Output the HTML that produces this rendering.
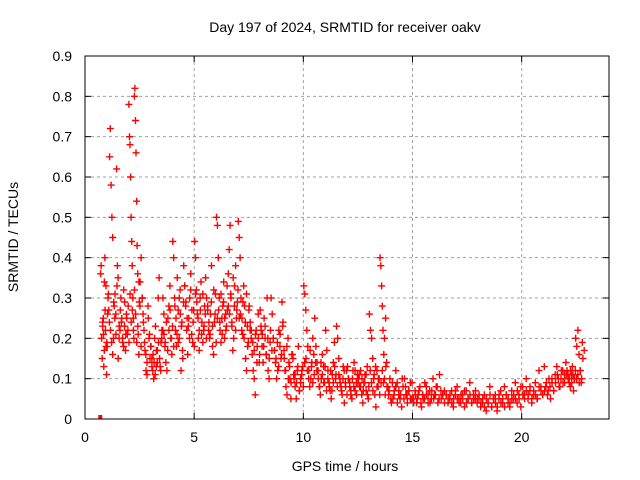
<!DOCTYPE html>
<html><head><meta charset="utf-8"><style>
body{margin:0;background:#fff}
svg{display:block;font-family:"Liberation Sans",sans-serif}
</style></head><body>
<svg width="640" height="480">
<text x="345" y="32" font-size="14" text-anchor="middle">Day 197 of 2024, SRMTID for receiver oakv</text>
<text x="0" y="0" font-size="14" text-anchor="middle" transform="translate(18,237) rotate(-90)">SRMTID / TECUs</text>
<text x="345" y="471" font-size="14" text-anchor="middle">GPS time / hours</text>
<g id="grid"></g><g id="axes"></g><g id="marks"></g>
<rect x="85" y="56" width="524" height="363" fill="none" stroke="#000" stroke-width="1"/>
</svg>
<script>
const xTicks=[0,5,10,15,20];
const yTicks=[0,0.1,0.2,0.3,0.4,0.5,0.6,0.7,0.8,0.9];
const yTickLabels=["0","0.1","0.2","0.3","0.4","0.5","0.6","0.7","0.8","0.9"];
const segStarts=[0.7,1.0,1.5,2.0,2.5,3.0,3.5,4.0,4.5,5.0,5.5,6.0,6.5,7.0,7.5,8.0,8.5,9.0,9.5,10.0,10.5,11.0,11.5,12.0,12.5,13.0,13.5,13.8,15.0,16.5,18.0,19.5,21.0,22.0];
const segEnds=[1.0,1.5,2.0,2.5,3.0,3.5,4.0,4.5,5.0,5.5,6.0,6.5,7.0,7.5,8.0,8.5,9.0,9.5,10.0,10.5,11.0,11.5,12.0,12.5,13.0,13.5,13.8,15.0,16.5,18.0,19.5,21.0,22.0,22.8];
const segValues=[
[0.36,0.38,0.2,0.15,0.23,0.25,0.13,0.34,0.4,0.22,0.18,0.11],
[0.18,0.3,0.27,0.65,0.72,0.58,0.5,0.45,0.2,0.28,0.31,0.26,0.62,0.38],
[0.15,0.2,0.22,0.3,0.25,0.19,0.32,0.23,0.17,0.26,0.21,0.28],
[0.78,0.7,0.68,0.6,0.5,0.44,0.38,0.3,0.25,0.2,0.8,0.82,0.74,0.66,0.54,0.43,0.36,0.21,0.16,0.29],
[0.34,0.4,0.3,0.26,0.22,0.17,0.12,0.11,0.28,0.2,0.15],
[0.18,0.15,0.12,0.1,0.2,0.23,0.17,0.14,0.3,0.35,0.13,0.19],
[0.22,0.3,0.26,0.18,0.14,0.12,0.25,0.28,0.33,0.2,0.16],
[0.44,0.4,0.3,0.22,0.18,0.35,0.27,0.2,0.32,0.12,0.24,0.15],
[0.38,0.33,0.28,0.22,0.16,0.25,0.3,0.36,0.21,0.19,0.27],
[0.44,0.4,0.32,0.26,0.2,0.17,0.3,0.34,0.24,0.19,0.22,0.28],
[0.35,0.3,0.28,0.22,0.2,0.26,0.38,0.18,0.16,0.24,0.31],
[0.5,0.48,0.4,0.3,0.22,0.19,0.25,0.28,0.34,0.2,0.26,0.23],
[0.27,0.36,0.42,0.48,0.3,0.23,0.17,0.2,0.33,0.38,0.25,0.29],
[0.49,0.45,0.4,0.3,0.25,0.21,0.33,0.28,0.15,0.12,0.23,0.19],
[0.28,0.24,0.2,0.16,0.12,0.1,0.06,0.22,0.18,0.26,0.14],
[0.27,0.22,0.18,0.14,0.25,0.2,0.16,0.3,0.12,0.1,0.19],
[0.3,0.26,0.2,0.17,0.14,0.1,0.12,0.22,0.18,0.15],
[0.29,0.24,0.17,0.12,0.08,0.06,0.2,0.14,0.1,0.05,0.16],
[0.15,0.1,0.08,0.05,0.12,0.18,0.07,0.09,0.11,0.13],
[0.33,0.31,0.27,0.22,0.18,0.12,0.08,0.1,0.14,0.2,0.16],
[0.25,0.18,0.14,0.12,0.08,0.06,0.1,0.16,0.13,0.09],
[0.22,0.17,0.12,0.09,0.07,0.05,0.11,0.14,0.19,0.1],
[0.23,0.2,0.15,0.1,0.08,0.06,0.13,0.04,0.09,0.12],
[0.13,0.1,0.08,0.06,0.05,0.12,0.14,0.07,0.09,0.11],
[0.1,0.08,0.12,0.06,0.04,0.09,0.11,0.07,0.13,0.05],
[0.26,0.22,0.2,0.15,0.1,0.06,0.03,0.12,0.08,0.1],
[0.4,0.38,0.33,0.28,0.22,0.16,0.1,0.06,0.13],
[0.08,0.06,0.1,0.04,0.05,0.07,0.12,0.09,0.06,0.05,0.03,0.08,0.1,0.06,0.04,0.07,0.09,0.05],
[0.05,0.07,0.04,0.06,0.08,0.03,0.05,0.09,0.06,0.04,0.07,0.05,0.1,0.06,0.08,0.04,0.11,0.05,0.06,0.07],
[0.06,0.04,0.05,0.07,0.03,0.06,0.08,0.05,0.04,0.06,0.03,0.07,0.05,0.09,0.04,0.06,0.05,0.04],
[0.05,0.03,0.04,0.06,0.02,0.04,0.08,0.03,0.05,0.06,0.02,0.05,0.07,0.04,0.08,0.06,0.04,0.03],
[0.07,0.05,0.09,0.04,0.06,0.03,0.08,0.06,0.1,0.05,0.07,0.04,0.06,0.09,0.05,0.12,0.08,0.06],
[0.13,0.08,0.06,0.1,0.05,0.09,0.07,0.11,0.13,0.1,0.08,0.12,0.09,0.11],
[0.14,0.12,0.1,0.09,0.08,0.11,0.13,0.07,0.1,0.2,0.18,0.22,0.16,0.12,0.09,0.19]
];
const segValuesExtra=[
[0.24,0.21,0.17,0.27,0.33,0.19,0.26,0.31],
[0.24,0.22,0.19,0.16,0.29,0.25,0.21,0.33,0.35,0.23],
[0.27,0.24,0.2,0.18,0.29,0.21,0.25,0.22,0.19,0.31],
[0.24,0.27,0.22,0.32,0.26,0.19,0.23,0.34,0.28,0.18],
[0.3,0.24,0.19,0.16,0.14,0.25,0.21,0.18,0.13],
[0.16,0.14,0.11,0.13,0.17,0.19,0.15,0.12,0.2,0.22],
[0.21,0.19,0.24,0.17,0.22,0.27,0.2,0.23,0.18],
[0.28,0.25,0.21,0.19,0.3,0.26,0.23,0.17,0.29,0.33],
[0.29,0.25,0.23,0.2,0.32,0.27,0.24,0.18,0.31],
[0.29,0.25,0.22,0.27,0.21,0.31,0.23,0.26,0.2],
[0.27,0.24,0.21,0.29,0.23,0.32,0.26,0.19,0.25],
[0.27,0.24,0.31,0.21,0.29,0.25,0.22,0.33,0.28],
[0.26,0.31,0.24,0.35,0.28,0.22,0.27,0.32,0.25],
[0.26,0.22,0.29,0.2,0.24,0.31,0.18,0.27,0.22],
[0.22,0.19,0.17,0.21,0.14,0.2,0.16,0.23],
[0.21,0.18,0.23,0.16,0.2,0.15,0.22,0.17],
[0.2,0.17,0.15,0.19,0.13,0.21,0.16,0.23],
[0.15,0.12,0.18,0.1,0.13,0.09,0.16,0.11],
[0.11,0.09,0.13,0.07,0.1,0.12,0.08,0.14],
[0.15,0.12,0.1,0.17,0.13,0.09,0.11,0.14],
[0.12,0.1,0.08,0.14,0.11,0.09,0.13,0.07],
[0.1,0.08,0.12,0.07,0.09,0.13,0.11,0.08],
[0.11,0.09,0.07,0.1,0.12,0.08,0.06,0.1],
[0.09,0.07,0.1,0.08,0.12,0.06,0.09,0.11],
[0.08,0.1,0.07,0.09,0.11,0.06,0.08,0.12],
[0.09,0.07,0.11,0.13,0.08,0.1,0.06,0.09],
[0.12,0.09,0.2,0.25,0.14,0.08],
[0.07,0.05,0.09,0.06,0.08,0.04,0.07,0.06,0.1,0.05,0.08,0.06,0.07,0.05,0.09,0.04],
[0.06,0.05,0.07,0.04,0.06,0.05,0.08,0.06,0.04,0.07,0.05,0.06,0.08,0.05,0.07,0.06,0.04,0.06],
[0.05,0.06,0.04,0.05,0.07,0.05,0.04,0.06,0.05,0.07,0.04,0.05,0.06,0.04,0.05,0.07,0.05,0.06],
[0.04,0.05,0.03,0.05,0.04,0.06,0.03,0.05,0.04,0.03,0.06,0.04,0.05,0.03,0.06,0.05,0.04,0.05],
[0.06,0.05,0.07,0.05,0.08,0.06,0.05,0.07,0.06,0.08,0.05,0.07,0.06,0.05,0.08,0.07,0.06,0.07],
[0.09,0.07,0.08,0.1,0.07,0.09,0.11,0.08,0.1,0.12,0.09,0.11],
[0.11,0.1,0.12,0.09,0.11,0.1,0.12,0.1,0.11,0.09,0.12,0.1,0.15,0.17]
];
const NS="http://www.w3.org/2000/svg";
const X0=85,X1=609,Y0=419,Y1=56,XMAX=24,YMAX=0.9;
function xs(t){return X0+(t/XMAX)*(X1-X0);}
function ys(v){return Y0-(v/YMAX)*(Y0-Y1);}
function mk(tag,a,p){const e=document.createElementNS(NS,tag);for(const k in a)e.setAttribute(k,a[k]);p.appendChild(e);return e;}
const grid=document.getElementById('grid'),axes=document.getElementById('axes'),marks=document.getElementById('marks');
xTicks.forEach((t,i)=>{const x=xs(t);
 if(i>0){const g=mk('line',{x1:x,y1:Y0,x2:x,y2:Y1,stroke:'#a0a0a0','stroke-dasharray':'3,3'},grid);
 
 }
 mk('line',{x1:x,y1:Y0,x2:x,y2:Y0-6,stroke:'#000'},axes);mk('line',{x1:x,y1:Y1,x2:x,y2:Y1+6,stroke:'#000'},axes);
 const l=mk('text',{x:x,y:Y0+23,'font-size':14,'text-anchor':'middle'},axes);l.textContent=t;
 
 });
yTicks.forEach((v,i)=>{const y=ys(v);
 if(i>0&&i<yTicks.length-1){const g=mk('line',{x1:X0,y1:y,x2:X1,y2:y,stroke:'#a0a0a0','stroke-dasharray':'3,3'},grid);
 
 }
 mk('line',{x1:X0,y1:y,x2:X0+6,y2:y,stroke:'#000'},axes);mk('line',{x1:X1,y1:y,x2:X1-6,y2:y,stroke:'#000'},axes);
 const l=mk('text',{x:X0-13,y:y+5,'font-size':14,'text-anchor':'end'},axes);l.textContent=yTickLabels[i];
 
 });
function plusPath(arr){let d='';
 arr.forEach((vals,s)=>{const a=segStarts[s],b=segEnds[s];
  vals.forEach((v,j)=>{const t=a+(b-a)*(j+0.5)/vals.length;const x=xs(t),y=ys(v);
   d+=`M${(x-3.5).toFixed(1)} ${y.toFixed(1)}h7M${x.toFixed(1)} ${(y-3.5).toFixed(1)}v7`;});});
 return d;}
const p=mk('path',{d:plusPath(segValues),stroke:'#ff0000','stroke-width':1.4,fill:'none'},marks);


const p2=mk('path',{d:plusPath(segValuesExtra),stroke:'#ff0000','stroke-width':1.4,fill:'none',transform:'translate(2,0)'},marks);


const sq=mk('rect',{x:xs(0.7)-2,y:Y0-4,width:4,height:4,fill:'#ff0000'},marks);


</script>
</body></html>
